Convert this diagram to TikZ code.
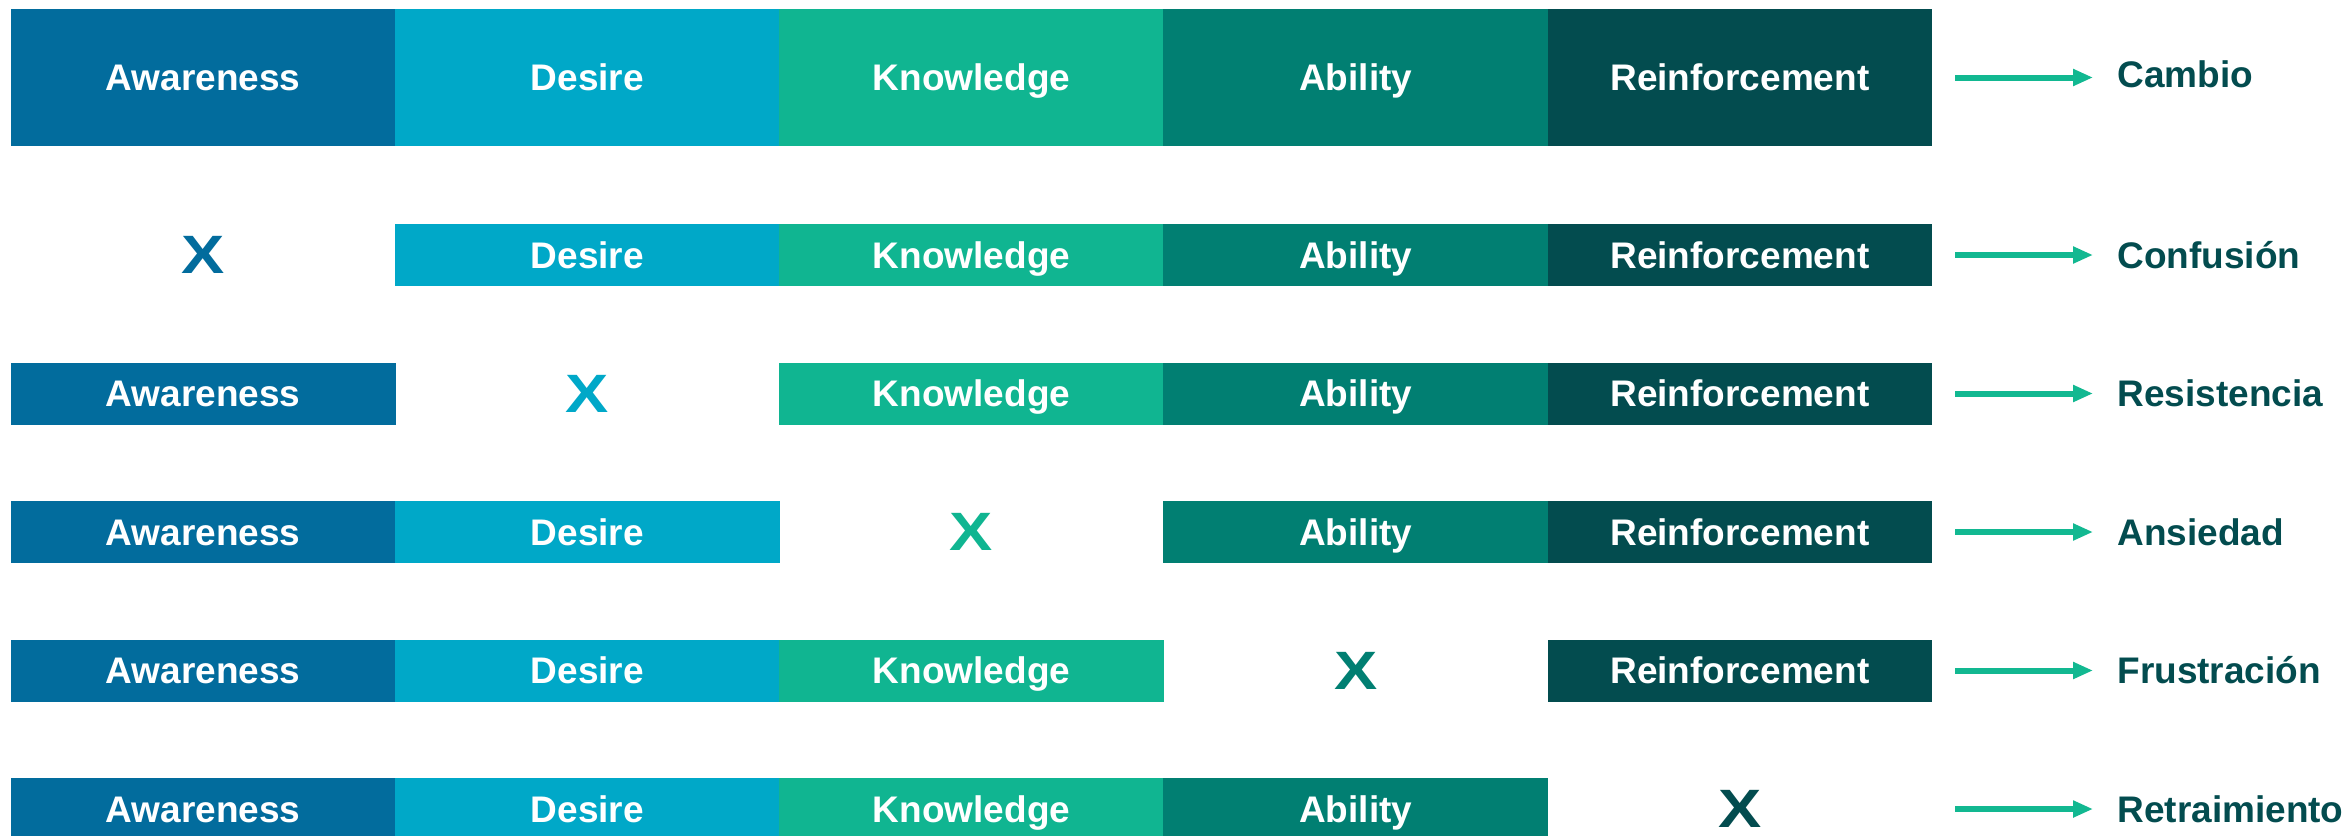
\documentclass[tikz,border=0pt]{standalone}
\usepackage{fontspec}
\setmainfont{Liberation Sans}
\usetikzlibrary{arrows.meta}
\definecolor{cAwa}{RGB}{2,108,157}
\definecolor{cDes}{RGB}{0,168,200}
\definecolor{cKno}{RGB}{16,181,145}
\definecolor{cAbi}{RGB}{1,127,114}
\definecolor{cRei}{RGB}{3,76,79}
\definecolor{cArrow}{RGB}{18,184,145}

\begin{document}
\begin{tikzpicture}[x=0.5pt,y=-0.5pt,
  stage/.style={fill=#1, draw=none, text=white, inner sep=0pt,
    font=\bfseries\fontsize{18.5}{20}\selectfont,
    minimum width=192.4pt, text height=13.25pt, text depth=0pt},
  missing/.style={text=#1, inner sep=0pt,
    font=\bfseries\fontsize{27}{27}\selectfont},
  outcome/.style={anchor=west, inner sep=0pt, text=cRei,
    font=\bfseries\fontsize{18.5}{20}\selectfont,
    text height=13.25pt, text depth=0pt},
  flow/.style={draw=cArrow, line width=3pt,
    -{Triangle[length=10pt,width=8pt]},
    shorten <=11.5pt, shorten >=12pt}]
\useasboundingbox (0,0) rectangle (2349,835);
\clip (0,0) rectangle (2349,835);
% one row per outcome: row / centre y / bar height / missing stage / label y / result
\foreach \r/\y/\h/\miss/\ly/\lab in {
    1/77.5/68.5/0/74/Cambio,
    2/255/31/1/255/Confusión,
    3/393.5/31/2/393.5/Resistencia,
    4/532/31/3/532/Ansiedad,
    5/670.5/31/4/670.5/Frustración,
    6/809/31/5/809/Retraimiento}{
  \foreach \c/\name/\col in {1/Awareness/cAwa, 2/Desire/cDes,
      3/Knowledge/cKno, 4/Ability/cAbi, 5/Reinforcement/cRei}{
    \pgfmathsetmacro\xc{11+384.2*(\c-0.5)}
    \ifnum\c=\miss
      \node[missing=\col] (s-\r-\c) at (\xc,\y) {\scalebox{1.2}[1]{X}};
    \else
      \node[stage=\col, minimum height=\h pt] (s-\r-\c) at (\xc,\y) {\name};
    \fi
  }
  \coordinate (e-\r) at (1932,\y);
  \node[outcome] (o-\r) at (2117,\ly) {\lab};
  \draw[flow] (e-\r) -- (e-\r -| o-\r.west);
}
\end{tikzpicture}
\end{document}
